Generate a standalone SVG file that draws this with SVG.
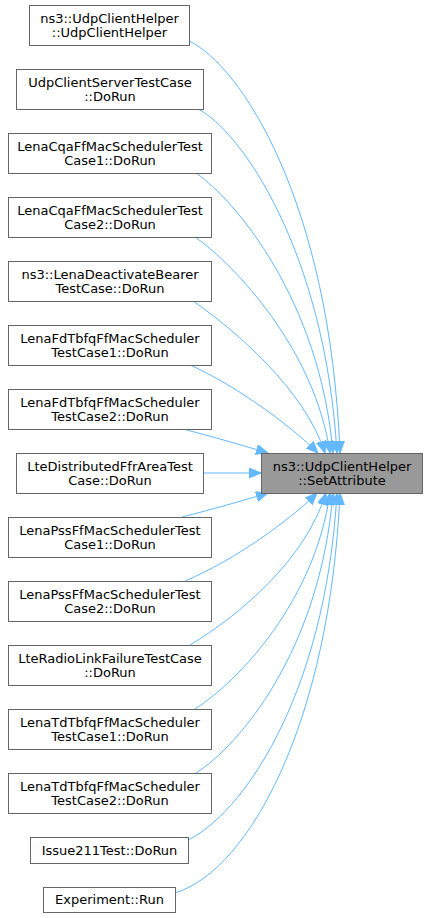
<svg xmlns="http://www.w3.org/2000/svg" width="427" height="918" viewBox="0 0 427 918">
<style>
.n rect{fill:#ffffff;stroke:#666666;stroke-width:1}
#target rect{fill:#999999;stroke:#666666}
text{font-family:"DejaVu Sans","Liberation Sans",sans-serif;font-size:13px;fill:#000000;text-anchor:middle}
.e path{fill:none;stroke:#63b8ff;stroke-width:1;marker-end:url(#ah)}
</style>
<defs>
<marker id="ah" markerUnits="userSpaceOnUse" markerWidth="14" markerHeight="12" refX="12" refY="5" orient="auto">
<path d="M0,0 L12,5 L0,10 Z" fill="#63b8ff" stroke="#63b8ff" stroke-width="1"/>
</marker>
</defs>
<g id="edges" class="e">
<path d="M189,41 C240,65 330,200 340,453"/>
<path d="M198,109 C240,130 325,250 337,453"/>
<path d="M196,173 C235,200 320,300 333,453"/>
<path d="M195,237 C235,265 315,350 330,453"/>
<path d="M193,301 C235,330 305,390 325,453"/>
<path d="M190,365 C235,385 290,425 318,453"/>
<path d="M183,429 C210,436 245,446 268,453"/>
<path d="M203,473 L261,473"/>
<path d="M182,517 C210,510 245,500 268,493"/>
<path d="M185,581 C235,560 290,520 317,493"/>
<path d="M190,645 C240,615 305,560 326,493"/>
<path d="M195,709 C240,680 315,600 330,493"/>
<path d="M196,773 C240,745 320,650 333,493"/>
<path d="M188,840 C240,815 325,700 337,493"/>
<path d="M175,893 C250,870 330,720 340,493"/>
</g>
<g id="target"><rect x="261.5" y="453.5" width="161" height="40"/><text x="342" y="471">ns3::UdpClientHelper</text><text x="342" y="484.5">::SetAttribute</text></g>
<g id="n1" class="n"><rect x="29.5" y="5.5" width="160" height="40"/><text x="109.5" y="23">ns3::UdpClientHelper</text><text x="109.5" y="36.5">::UdpClientHelper</text></g>
<g id="n2" class="n"><rect x="16.5" y="69.5" width="187" height="40"/><text x="110" y="87">UdpClientServerTestCase</text><text x="110" y="100.5">::DoRun</text></g>
<g id="n3" class="n"><rect x="8.5" y="133.5" width="203" height="40"/><text x="110" y="151">LenaCqaFfMacSchedulerTest</text><text x="110" y="164.5">Case1::DoRun</text></g>
<g id="n4" class="n"><rect x="8.5" y="197.5" width="203" height="40"/><text x="110" y="215">LenaCqaFfMacSchedulerTest</text><text x="110" y="228.5">Case2::DoRun</text></g>
<g id="n5" class="n"><rect x="8.5" y="261.5" width="203" height="40"/><text x="110" y="279">ns3::LenaDeactivateBearer</text><text x="110" y="292.5">TestCase::DoRun</text></g>
<g id="n6" class="n"><rect x="8.5" y="325.5" width="203" height="40"/><text x="110" y="343">LenaFdTbfqFfMacScheduler</text><text x="110" y="356.5">TestCase1::DoRun</text></g>
<g id="n7" class="n"><rect x="8.5" y="389.5" width="203" height="40"/><text x="110" y="407">LenaFdTbfqFfMacScheduler</text><text x="110" y="420.5">TestCase2::DoRun</text></g>
<g id="n8" class="n"><rect x="16.5" y="453.5" width="187" height="40"/><text x="110" y="471">LteDistributedFfrAreaTest</text><text x="110" y="484.5">Case::DoRun</text></g>
<g id="n9" class="n"><rect x="8.5" y="517.5" width="203" height="40"/><text x="110" y="535">LenaPssFfMacSchedulerTest</text><text x="110" y="548.5">Case1::DoRun</text></g>
<g id="n10" class="n"><rect x="8.5" y="581.5" width="203" height="40"/><text x="110" y="599">LenaPssFfMacSchedulerTest</text><text x="110" y="612.5">Case2::DoRun</text></g>
<g id="n11" class="n"><rect x="8.5" y="645.5" width="203" height="40"/><text x="110" y="663">LteRadioLinkFailureTestCase</text><text x="110" y="676.5">::DoRun</text></g>
<g id="n12" class="n"><rect x="8.5" y="709.5" width="203" height="40"/><text x="110" y="727">LenaTdTbfqFfMacScheduler</text><text x="110" y="740.5">TestCase1::DoRun</text></g>
<g id="n13" class="n"><rect x="8.5" y="773.5" width="203" height="40"/><text x="110" y="791">LenaTdTbfqFfMacScheduler</text><text x="110" y="804.5">TestCase2::DoRun</text></g>
<g id="n14" class="n"><rect x="30.5" y="837.5" width="158" height="26"/><text x="109.5" y="854.5">Issue211Test::DoRun</text></g>
<g id="n15" class="n"><rect x="43.5" y="887.5" width="132" height="25"/><text x="109.5" y="904">Experiment::Run</text></g>
</svg>
